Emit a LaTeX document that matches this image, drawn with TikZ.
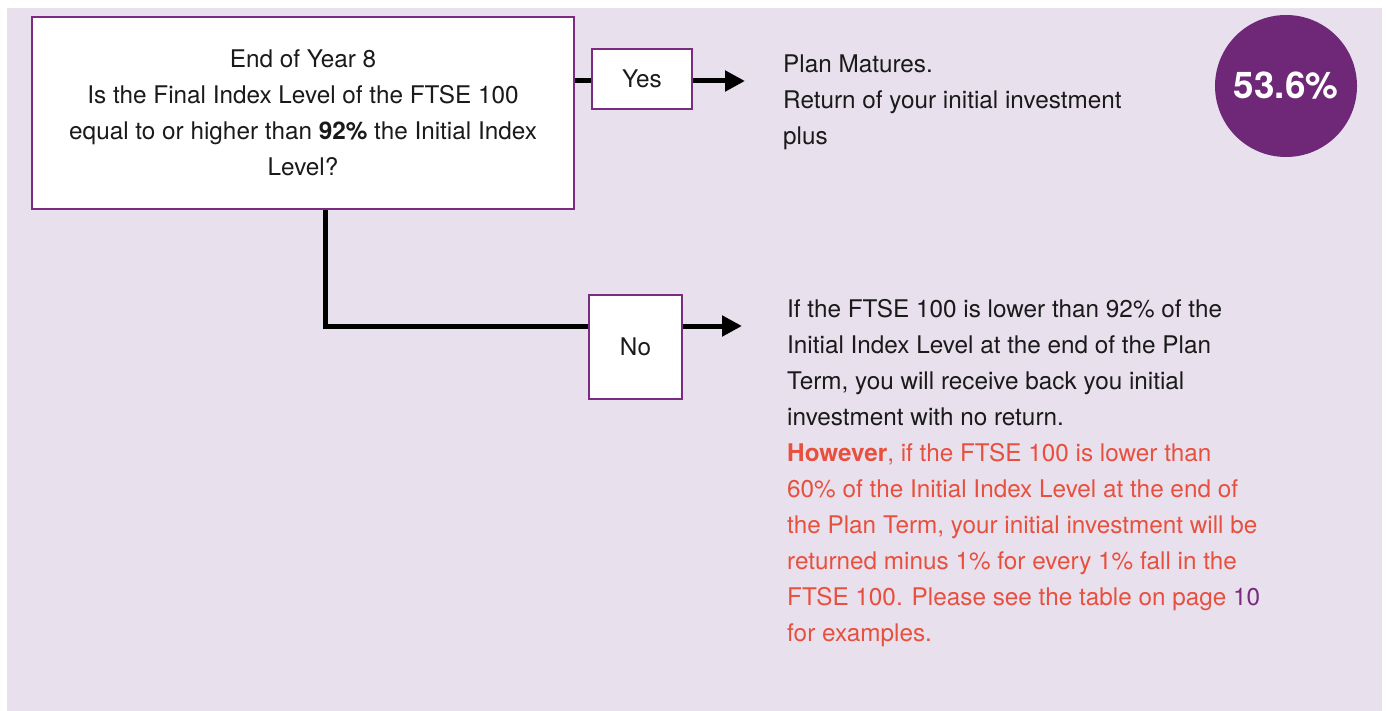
\documentclass[tikz,border=0pt]{standalone}
\usepackage{fontspec}
\setmainfont{TeX Gyre Heros}
\usetikzlibrary{arrows.meta}
\definecolor{bgl}{RGB}{232,224,237}
\definecolor{purp}{RGB}{122,45,128}
\definecolor{circ}{RGB}{111,40,119}
\definecolor{redt}{RGB}{232,80,62}
\definecolor{txt}{RGB}{26,26,26}
\tikzset{
  pbox/.style={draw=purp,line width=2pt,fill=white,inner sep=0pt,text=txt,font=\fontsize{24.3}{36}\selectfont,align=center},
  conn/.style={line width=5pt,black},
  arr/.style={conn,-{Triangle[length=20pt,width=20pt]}},
  rtext/.style={anchor=base west,inner sep=0pt,align=left,text=txt,font=\fontsize{24.3}{36}\selectfont}
}
\begin{document}
\begin{tikzpicture}[x=1pt,y=-1pt]
\useasboundingbox (0,0) rectangle (1386,711);
\fill[bgl] (7,8) rectangle (1382,711);
\node[pbox,minimum width=542pt,minimum height=192pt] (main) at (303,113) {End of Year 8\\Is the Final Index Level of the FTSE 100\\equal to or higher than \textbf{92\%} the Initial Index\\Level?};
\node[pbox,minimum width=100pt,minimum height=60pt] (yes) at (642,79) {Yes};
\node[pbox,minimum width=93pt,minimum height=104pt] (nob) at (635.5,347) {No};
\coordinate (yend) at (745,81);
\coordinate (nend) at (742,326);
\coordinate (corner) at (325,326);
\draw[conn] (main.east |- yend) -- (yes.west |- yend);
\draw[arr] (yes.east |- yend) -- (yend);
\draw[conn] (main.south -| corner) -- (corner) -- (corner -| nob.west);
\draw[arr] (nob.east |- nend) -- (nend);
\node[circle,fill=circ,minimum size=142pt,inner sep=0pt,text=white,font=\fontsize{36.8}{40}\selectfont\bfseries] (pct) at (1286,86) {53.6\%};
\node[rtext] (mat) at (783,145) {Plan Matures.\\Return of your initial investment\\plus};
\node[rtext] (fall) at (787,641) {If the FTSE 100 is lower than 92\% of the\\Initial Index Level at the end of the Plan\\Term, you will receive back you initial\\investment with no return.\\\textcolor{redt}{\textbf{However}, if the FTSE 100 is lower than}\\\textcolor{redt}{60\% of the Initial Index Level at the end of}\\\textcolor{redt}{the Plan Term, your initial investment will be}\\\textcolor{redt}{returned minus 1\% for every 1\% fall in the}\\\textcolor{redt}{FTSE 100. Please see the table on page} \textcolor{purp}{10}\\\textcolor{redt}{for examples.}};
\end{tikzpicture}
\end{document}
